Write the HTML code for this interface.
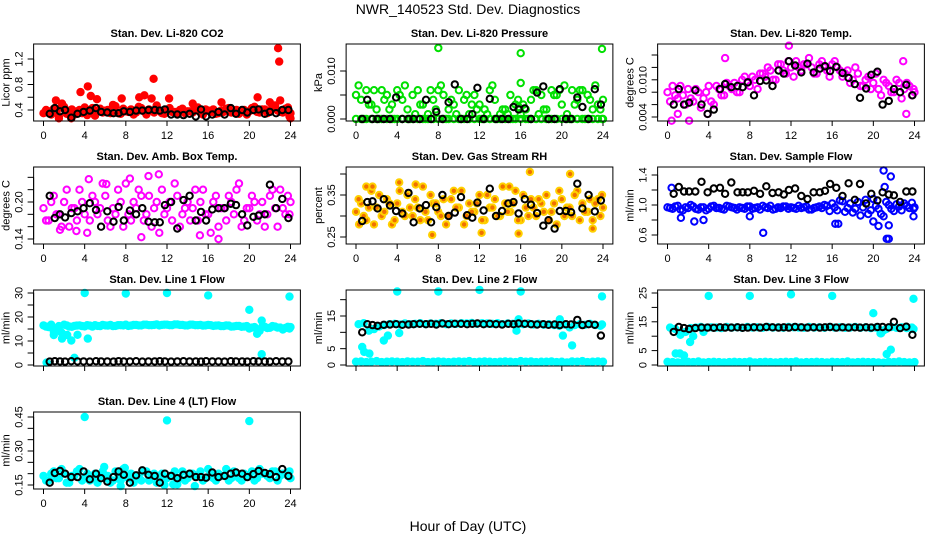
<!DOCTYPE html>
<html><head><meta charset="utf-8"><title>NWR_140523 Std. Dev. Diagnostics</title>
<style>
html,body{margin:0;padding:0;background:#fff;}
svg{display:block;font-family:"Liberation Sans",Arial,sans-serif;}
</style></head>
<body>
<svg id="chart" width="936" height="540" viewBox="0 0 936 540" xmlns="http://www.w3.org/2000/svg">
<rect x="0" y="0" width="936" height="540" fill="#fff"/>
<text x="468" y="14" text-anchor="middle" font-size="14" fill="#000">NWR_140523 Std. Dev. Diagnostics</text>
<text x="468" y="531" text-anchor="middle" font-size="14" fill="#000">Hour of Day (UTC)</text>
</svg>
<script>
// ---- shared categories ----
const halfHours = [0,0.5,1,1.5,2,2.5,3,3.5,4,4.5,5,5.5,6,6.5,7,7.5,8,8.5,9,9.5,10,10.5,11,11.5,12,12.5,13,13.5,14,14.5,15,15.5,16,16.5,17,17.5,18,18.5,19,19.5,20,20.5,21,21.5,22,22.5,23,23.5,24];
const qHours = [0.25,0.75,1.25,1.75,2.25,2.75,3.25,3.75,4.25,4.75,5.25,5.75,6.25,6.75,7.25,7.75,8.25,8.75,9.25,9.75,10.25,10.75,11.25,11.75,12.25,12.75,13.25,13.75,14.25,14.75,15.25,15.75,16.25,16.75,17.25,17.75,18.25,18.75,19.25,19.75,20.25,20.75,21.25,21.75,22.25,22.75,23.25,23.75,23.9];
const blackHours = [0.6,1.1,1.6,2.1,2.7,3.3,3.9,4.5,5.1,5.6,6.2,6.8,7.3,7.8,8.4,9.0,9.6,10.2,10.8,11.3,11.8,12.4,13.0,13.6,14.2,14.8,15.3,15.8,16.4,17.0,17.6,18.2,18.7,19.3,19.8,20.4,20.9,21.5,22.0,22.6,23.2,23.8];
const xTicks = [0,4,8,12,16,20,24];

// ---- CO2 ----
const co2A = [.35,.38,.42,.30,.45,.36,.33,.40,.44,.37,.31,.42,.39,.35,.46,.34,.38,.41,.36,.43,.33,.39,.47,.35,.40,.37,.34,.42,.38,.36,.44,.33,.39,.41,.35,.37,.43,.36,.34,.40,.38,.45,.36,.41,.39,.47,.37,.42,.35];
const co2B = [.40,.33,.36,.44,.34,.41,.38,.35,.32,.43,.39,.36,.40,.48,.35,.42,.37,.33,.45,.38,.41,.36,.39,.34,.43,.37,.40,.35,.38,.44,.36,.41,.37,.34,.39,.42,.36,.40,.38,.33,.43,.37,.41,.35,.46,.39,.36,.44,.30];
const co2OutH = [1.2,1.8,3.6,4.3,4.6,5.2,7.6,9.3,9.8,10.5,10.7,12.2,14.5,17.3,20.8,22.0,22.8,22.9,23.0,24,1.5,2.7];
const co2OutV = [.55,.50,.68,.77,.62,.57,.58,.60,.63,.58,.89,.58,.50,.52,.60,.52,1.37,1.16,.55,.27,.27,.27];
const co2K = [.34,.43,.38,.40,.28,.34,.37,.39,.43,.37,.36,.35,.35,.38,.37,.39,.39,.40,.40,.39,.41,.33,.33,.32,.34,.30,.41,.30,.33,.37,.33,.43,.34,.40,.36,.40,.41,.34,.37,.35,.40,.40];

// ---- Pressure ----
const prA = [.005,.004,.006,.003,.002,.006,.005,.003,.006,.004,.002,.005,.006,.003,.001,.004,.006,.005,.002,.003,.006,.004,.001,.005,.003,.002,.006,.004,.001,.002,.005,.003,.001,.002,.004,.006,.005,.002,.006,.005,.003,.001,.006,.004,.006,.005,.002,.003,.004];
const prB = [.007,0,.003,.006,0,.004,.002,0,.005,.007,0,.001,.003,0,.006,.002,.007,0,.004,.001,0,.005,.003,.002,0,.001,.007,0,.002,.001,0,.004,.003,0,.006,.001,.002,0,.005,.006,.007,0,.003,.006,0,.004,.007,.002,0];
const prC = [0,0,0,0,0,0,0,0,0,0,0,0,0,0,0,0,0,0,0,0,0,0,0,0,0,0,0,0,0,0,0,0,0,0,0,0,0,0,0,0,0,0,0,0,0,0,0,0,0];
const prOutH = [8,16,23.9,16.0,15.8,15.9];
const prOutV = [.0148,.0137,.0146,.0075,.0025,.002];
const prK = [0,.004,0,0,0,0,.0045,0,0,0,0,.004,0,.0015,0,.0035,.0072,0,0,.001,.0065,0,.0042,0,0,0,.0025,.002,.0022,0,.0055,.0068,0,0,.0062,0,0,.0045,.0025,0,.0062,.003];

// ---- Li-820 Temp ----
const tpA = [.008,.009,.007,.0075,.0085,.0065,.008,.007,.009,.006,.0085,.0075,.009,.0095,.008,.0105,.009,.0100,.0110,.0105,.0115,.0100,.0125,.0110,.0120,.0130,.0115,.0125,.0120,.0110,.0130,.0115,.0125,.0120,.0105,.0115,.0100,.0110,.0090,.0105,.0095,.0085,.0100,.0090,.0080,.0095,.0085,.0090,.0080];
const tpB = [.0065,.0075,.009,.006,.0070,.0085,.0055,.0080,.0065,.0090,.0075,.0095,.0085,.0080,.0100,.0095,.0105,.0085,.0110,.0120,.0100,.0125,.0115,.0130,.0105,.0120,.0125,.0135,.0110,.0125,.0120,.0105,.0130,.0115,.0110,.0095,.0120,.0090,.0100,.0085,.0110,.0075,.0095,.0080,.0100,.0070,.0095,.0075,.0085];
const tpOutH = [0.4,2.1,1.0,23.2,3.9,5.6,22.9,11.8];
const tpOutV = [.0034,.0034,.0045,.0045,.0045,.0135,.013,.0155];
const tpK = [.006,.0085,.006,.0063,.0083,.006,.0045,.0052,.0085,.0093,.0088,.0090,.0088,.0096,.0075,.0098,.0099,.0090,.0115,.0110,.0130,.0123,.0112,.0126,.0112,.0118,.0122,.0114,.0121,.0111,.0103,.0093,.0071,.0086,.0108,.0113,.0060,.0066,.0085,.0080,.0092,.0075];

// ---- Amb Box Temp ----
const abA = [.19,.17,.21,.18,.20,.16,.19,.22,.18,.17,.20,.19,.21,.16,.18,.20,.23,.17,.19,.21,.18,.16,.20,.22,.19,.17,.21,.18,.20,.19,.17,.22,.18,.20,.16,.19,.21,.18,.23,.17,.19,.20,.18,.16,.21,.19,.22,.18,.20];
const abB = [.17,.20,.18,.16,.22,.19,.17,.20,.15,.21,.18,.23,.17,.19,.22,.16,.18,.20,.22,.17,.21,.19,.15,.18,.20,.23,.16,.19,.17,.22,.20,.18,.15,.21,.19,.17,.20,.22,.16,.19,.21,.17,.20,.18,.22,.16,.19,.21,.18];
const abOutH = [4.4,8.4,10.2,11.2,6.1,1.6,3.2,17.0,15.2,9.5];
const abOutV = [.237,.238,.242,.245,.229,.155,.153,.140,.146,.143];
const abK = [.21,.174,.180,.175,.182,.185,.19,.198,.187,.160,.185,.168,.192,.170,.186,.180,.190,.168,.167,.167,.195,.200,.157,.203,.210,.170,.184,.170,.188,.190,.190,.197,.195,.180,.162,.176,.178,.180,.228,.190,.205,.174];

// ---- Gas Stream RH ----
const rhA = [.31,.33,.29,.36,.32,.30,.34,.28,.33,.31,.35,.30,.32,.37,.29,.33,.31,.34,.30,.36,.32,.28,.33,.31,.35,.29,.32,.34,.30,.33,.31,.36,.29,.32,.34,.30,.33,.35,.31,.28,.34,.32,.30,.36,.33,.31,.29,.34,.32];
const rhB = [.34,.30,.32,.28,.35,.31,.33,.29,.36,.30,.32,.34,.29,.31,.35,.33,.30,.28,.34,.32,.36,.30,.31,.33,.29,.35,.32,.30,.37,.31,.33,.29,.35,.30,.32,.34,.31,.29,.33,.36,.30,.32,.35,.29,.31,.34,.33,.30,.35];
const rhOutH = [1.0,4.2,7.4,12.2,16.9,14.9,15.8,20.8,23.0,0.3,1.6,5.8];
const rhOutV = [.37,.38,.255,.26,.405,.37,.258,.40,.27,.28,.37,.375];
const rhK = [.288,.333,.335,.318,.340,.325,.312,.306,.355,.285,.318,.326,.285,.321,.350,.300,.308,.345,.302,.296,.332,.313,.365,.300,.312,.330,.333,.306,.340,.327,.307,.277,.290,.270,.312,.312,.309,.377,.318,.350,.311,.337];

// ---- Sample Flow ----
const sfA = [.97,.95,.99,.93,.96,.98,.94,.97,.95,.99,.96,.94,.98,.96,.97,.95,.98,.96,.94,.97,.99,.95,.96,.98,.97,.95,.96,.98,.94,.97,.96,.99,1.02,.93,1.05,.96,.90,1.04,.97,.88,1.08,.95,.85,1.00,.92,.98,1.02,.96,.97];
const sfB = [.96,.98,.94,.97,1.00,.95,.97,.93,.98,.96,.95,.99,.97,.94,.96,.98,.95,.97,.99,.96,.94,.97,.98,.95,.96,.99,.97,.94,.96,.98,1.00,.92,.97,1.06,.91,1.02,.95,.86,1.07,.93,.99,.88,1.04,.95,1.01,.93,.99,1.03,.95];
const sfOutH = [0.4,1.3,2.6,3.5,9.3,8.0,16.3,16.6,20.0,20.5,21.0,21.7,21.3,21.5,21.5,21.1,23.9];
const sfOutV = [1.23,.83,.78,.80,.63,.85,.75,.75,.78,.72,1.46,1.38,.55,.55,.73,1.24,.85];
const sfK = [1.15,1.24,1.18,1.18,1.18,1.31,1.17,1.22,1.23,1.15,1.30,1.17,1.17,1.17,1.19,1.15,1.25,1.16,1.17,1.14,1.20,1.22,1.12,1.08,1.17,1.17,1.19,1.28,1.23,1.12,1.29,1.07,1.28,1.02,1.15,1.06,1.17,1.14,1.13,1.04,1.18,1.18];

// ---- Line 1 Flow ----
const l1A = [16.5,15.8,14.0,16.2,16.8,16.0,16.3,16.5,16.1,16.4,16.6,16.2,16.5,16.7,16.3,16.6,16.8,16.4,16.7,16.5,16.8,16.6,16.9,16.7,16.8,16.6,16.9,16.7,16.5,16.8,16.6,16.4,16.7,16.3,16.5,16.2,16.4,16.1,16.3,16.0,15.2,15.8,14.2,15.9,15.5,16.0,15.6,15.4,15.8];
const l1B = [16.0,16.8,15.2,13.5,16.5,15.9,16.4,16.2,16.6,16.0,16.3,16.7,16.4,16.2,16.6,16.5,16.3,16.7,16.5,16.8,16.6,16.7,16.5,16.8,16.6,16.9,16.7,16.5,16.8,16.6,16.7,16.5,16.6,16.4,16.2,16.5,16.0,16.3,15.9,16.2,15.6,13.0,15.9,15.4,16.2,15.6,14.8,15.9,15.2];
const l1OutH = [4,8,12,16,20,23.9,0.3,1.0,2.7,3.3,4.3,2.3,21.2,21.2,1.8,3.0];
const l1OutV = [30,29.8,30,29,23,28.5,1,12.5,10.2,12.6,11,12.5,4.5,18.5,11,3];
const l1K = [1.4,1.6,1.5,1.4,1.6,1.5,1.5,1.4,1.6,1.5,1.5,1.4,1.6,1.5,1.5,1.6,1.4,1.5,1.5,1.6,1.5,1.4,1.5,1.6,1.5,1.5,1.4,1.6,1.5,1.5,1.4,1.6,1.5,1.5,1.4,1.6,1.5,1.5,1.4,1.6,1.5,1.5];

// ---- Line 2 Flow ----
const l2A = [1.0,1.1,0.9,1.0,1.2,0.9,1.0,1.1,1.0,0.9,1.1,1.0,1.0,1.2,0.9,1.0,1.1,1.0,0.9,1.0,1.1,1.0,1.2,0.9,1.0,1.1,1.0,0.9,1.0,1.1,1.0,0.9,1.2,1.0,1.1,0.9,1.0,1.0,1.1,0.9,1.0,0.8,1.1,1.0,1.2,0.9,1.0,1.1,1.0];
const l2B = [12.5,12.8,10.5,11.0,11.8,12.2,12.5,12.6,12.4,12.7,12.5,12.6,12.8,12.5,12.7,12.6,12.8,12.5,12.7,12.6,12.8,12.7,12.9,12.6,12.8,12.7,12.6,12.8,12.5,12.7,12.6,12.8,12.5,12.7,12.4,12.6,12.3,12.5,12.2,12.0,12.4,11.5,12.2,12.5,12.3,12.6,12.2,12.0,12.4];
const l2OutH = [4,8,12,16,23.9,0.6,0.8,1.3,2.7,3.1,4.2,15.6,19.8,20.1,21.0,15.8,1.4];
const l2OutV = [22.5,22.5,23,22.5,21,5.5,4,3.5,7.5,9,9.8,10.5,14,9,6,14,11.0];
const l2K = [10,12.5,12.2,12.0,12.3,12.4,12.5,12.3,12.4,12.5,12.6,12.5,12.6,12.4,12.7,12.5,12.6,12.6,12.5,12.6,12.7,12.5,12.6,12.5,12.4,12.6,12.5,12.7,12.6,12.5,12.4,12.5,12.3,12.4,12.2,12.5,12.4,13.8,12.2,12.5,12.3,9];

// ---- Line 3 Flow ----
const l3A = [1.1,1.0,0.9,1.0,1.1,1.0,1.2,0.9,1.0,1.1,1.0,0.9,1.0,1.1,1.0,1.0,1.2,0.9,1.0,1.1,1.0,0.9,1.0,1.1,1.0,1.2,0.9,1.0,1.0,1.1,1.0,0.9,1.1,1.0,1.0,1.2,0.9,1.0,1.1,1.0,1.0,0.9,0.8,1.1,1.0,1.2,1.0,0.9,1.0];
const l3B = [13.0,12.5,10.5,11.5,12.8,13.0,13.2,12.9,13.1,13.0,12.8,13.2,13.0,13.1,12.9,13.2,13.0,13.1,12.9,13.2,13.0,13.1,12.9,13.2,13.1,13.0,12.9,13.2,13.0,13.1,12.9,13.2,13.0,13.1,12.9,13.0,13.2,12.9,13.1,12.8,13.0,11.0,12.5,13.2,12.9,13.1,12.8,13.0,12.5];
const l3OutH = [4,8,12,16,23.9,0.8,1.2,1.6,2.2,2.5,20.0,20.7,21.3,21.7,21.0,3.5];
const l3OutV = [24,24,24.5,24,23,4,4,3.3,8,10,18,11,3.8,5.3,12,11.5];
const l3K = [11.5,13.2,12.8,12.5,12.8,13.0,13.0,12.9,13.1,13.0,13.0,13.1,12.9,13.0,13.1,13.0,13.2,13.1,13.0,13.1,13.0,13.2,13.1,13.0,13.1,13.0,13.1,13.2,13.0,13.1,13.0,13.1,13.0,13.1,13.0,13.2,13.2,13.1,15.0,12.8,13.3,10.5];

// ---- Line 4 (LT) Flow ----
const l4A = [.19,.17,.21,.18,.20,.16,.19,.22,.18,.17,.20,.19,.18,.16,.21,.17,.19,.20,.18,.17,.21,.19,.16,.20,.18,.19,.17,.21,.18,.20,.19,.17,.22,.18,.20,.19,.17,.21,.18,.20,.19,.17,.22,.20,.18,.21,.19,.20,.18];
const l4B = [.17,.20,.18,.22,.16,.19,.21,.17,.20,.18,.16,.21,.19,.17,.20,.22,.18,.16,.19,.21,.17,.20,.18,.15,.19,.21,.18,.17,.20,.19,.21,.18,.20,.17,.19,.22,.18,.20,.17,.19,.21,.18,.20,.19,.21,.17,.20,.19,.21];
const l4OutH = [4,12,20,7.5,14.7,12.6,13.0,5.9,7.9];
const l4OutV = [.45,.435,.432,.145,.145,.153,.153,.23,.225];
const l4K = [.16,.203,.212,.20,.185,.185,.21,.175,.20,.18,.165,.185,.210,.195,.16,.193,.215,.195,.19,.16,.20,.190,.180,.195,.200,.185,.185,.182,.205,.185,.190,.20,.205,.20,.185,.198,.212,.203,.198,.185,.22,.19];

// ---- tick arrays ----
const co2Ticks = [0.4,0.6,0.8,1.0,1.2], co2Labels = ["0.4","","0.8","","1.2"];
const prTicks = [0,0.005,0.01], prLabels = ["0.000","","0.010"];
const tpTicks = [0.004,0.006,0.008,0.010,0.012,0.014], tpLabels = ["0.004","","","0.010","",""];
const abTicks = [0.14,0.16,0.18,0.20,0.22,0.24], abLabels = ["0.14","","","0.20","",""];
const rhTicks = [0.25,0.30,0.35,0.40], rhLabels = ["0.25","","0.35",""];
const sfTicks = [0.6,0.8,1.0,1.2,1.4], sfLabels = ["0.6","","1.0","","1.4"];
const l1Ticks = [0,5,10,15,20,25,30], l1Labels = ["0","","10","","20","","30"];
const l2Ticks = [0,5,10,15,20], l2Labels = ["0","5","","15",""];
const l3Ticks = [0,5,10,15,20,25], l3Labels = ["0","5","","15","","25"];
const l4Ticks = [0.15,0.20,0.25,0.30,0.35,0.40,0.45], l4Labels = ["0.15","","","0.30","","","0.45"];

const NS = "http://www.w3.org/2000/svg";
const svg = document.getElementById('chart');
function mk(tag, attrs, parent){ const e=document.createElementNS(NS,tag); for(const k in attrs) e.setAttribute(k,attrs[k]); (parent||svg).appendChild(e); return e; }

const colX0 = [43.5, 356, 667.5];
const HW = 247/24;
const rowBox = [[44,121],[167,244],[290,366],[412,489]];

function drawPanel(p){
  const x0 = colX0[p.col];
  const top = rowBox[p.row][0], bot = rowBox[p.row][1];
  const k = (p.cal[3]-p.cal[1])/(p.cal[2]-p.cal[0]);
  const xs = h => x0 + h*HW;
  const ys = v => p.cal[1] + (v - p.cal[0])*k;
  const g = mk('g',{});
  
  
  const left = xs(-0.96), right = xs(24.96);
  const t = mk('text',{x:(left+right)/2,y:top-7,'text-anchor':'middle','font-size':11,'font-weight':'bold'},g);
  t.textContent = p.title;
  
  
  const pts = mk('g',{},g);
  
  
  function dot(h,v,stroke,fill){
    const y = ys(v);
    if (y < top-2 || y > bot+2) return;
    const c = mk('circle',{cx:xs(h).toFixed(1),cy:y.toFixed(1),r:3.2,fill:fill,stroke:stroke,'stroke-width':2},pts);
    
    
  }
  p.main.forEach((arr,j)=>{ const hrs = j%2===0 ? halfHours : qHours; arr.forEach((v,i)=>dot(hrs[i],v,p.color,p.fill)); });
  p.outH.forEach((h,i)=>dot(h,p.outV[i],p.color,p.fill));
  p.black.forEach((v,i)=>dot(blackHours[i],v,'#000','none'));
  const b = mk('rect',{x:left,y:top,width:right-left,height:bot-top,fill:'none',stroke:'#000','stroke-width':1},g);
  
  
  const xa = mk('g',{},g);
  
  
  mk('line',{x1:xs(0),x2:xs(24),y1:bot,y2:bot,stroke:'#000'},xa);
  xTicks.forEach(h=>{
    mk('line',{x1:xs(h),x2:xs(h),y1:bot,y2:bot+5,stroke:'#000'},xa);
    if (p.row!==2){ const lt = mk('text',{x:xs(h),y:bot+18,'text-anchor':'middle','font-size':11},xa); lt.textContent = h; }
  });
  const ya = mk('g',{},g);
  
  
  mk('line',{x1:left,x2:left,y1:ys(p.ticks[0]),y2:ys(p.ticks[p.ticks.length-1]),stroke:'#000'},ya);
  p.ticks.forEach((v,i)=>{
    const y = ys(v);
    mk('line',{x1:left-6,x2:left,y1:y,y2:y,stroke:'#000'},ya);
    if (p.labels[i]){ const lt = mk('text',{x:left-11,y:y,'text-anchor':'middle','font-size':11,transform:`rotate(-90 ${left-11} ${y})`},ya); lt.textContent = p.labels[i]; }
  });
  const yt = mk('text',{x:left-24,y:(top+bot)/2,'text-anchor':'middle','font-size':11,transform:`rotate(-90 ${left-24} ${(top+bot)/2})`},g);
  yt.textContent = p.ytitle;
  
  
}

const panels = [
 {name:'li820-co2',title:'Stan. Dev. Li-820 CO2',row:0,col:0,cal:[0.4,110,1.2,59],ticks:co2Ticks,labels:co2Labels,ytitle:'Licor ppm',color:'#ff0000',fill:'#ff0000',main:[co2A,co2B],outH:co2OutH,outV:co2OutV,black:co2K},
 {name:'li820-pressure',title:'Stan. Dev. Li-820 Pressure',row:0,col:1,cal:[0,119,0.01,71],ticks:prTicks,labels:prLabels,ytitle:'kPa',color:'#00e000',fill:'none',main:[prA,prB,prC],outH:prOutH,outV:prOutV,black:prK},
 {name:'li820-temp',title:'Stan. Dev. Li-820 Temp.',row:0,col:2,cal:[0.004,117,0.010,79.8],ticks:tpTicks,labels:tpLabels,ytitle:'degrees C',color:'#ff00ff',fill:'none',main:[tpA,tpB],outH:tpOutH,outV:tpOutV,black:tpK},
 {name:'amb-box-temp',title:'Stan. Dev. Amb. Box Temp.',row:1,col:0,cal:[0.14,239,0.20,202],ticks:abTicks,labels:abLabels,ytitle:'degrees C',color:'#ff00ff',fill:'none',main:[abA,abB],outH:abOutH,outV:abOutV,black:abK},
 {name:'gas-stream-rh',title:'Stan. Dev. Gas Stream RH',row:1,col:1,cal:[0.25,237,0.35,195],ticks:rhTicks,labels:rhLabels,ytitle:'percent',color:'#ffd000',fill:'#f07000',main:[rhA,rhB],outH:rhOutH,outV:rhOutV,black:rhK},
 {name:'sample-flow',title:'Stan. Dev. Sample Flow',row:1,col:2,cal:[0.6,235,1.0,205],ticks:sfTicks,labels:sfLabels,ytitle:'ml/min',color:'#0000ff',fill:'none',main:[sfA,sfB],outH:sfOutH,outV:sfOutV,black:sfK},
 {name:'line1-flow',title:'Stan. Dev. Line 1 Flow',row:2,col:0,cal:[0,365,30,293],ticks:l1Ticks,labels:l1Labels,ytitle:'ml/min',color:'#00ffff',fill:'#00ffff',main:[l1A,l1B],outH:l1OutH,outV:l1OutV,black:l1K},
 {name:'line2-flow',title:'Stan. Dev. Line 2 Flow',row:2,col:1,cal:[0,365,15,316],ticks:l2Ticks,labels:l2Labels,ytitle:'ml/min',color:'#00ffff',fill:'#00ffff',main:[l2A,l2B],outH:l2OutH,outV:l2OutV,black:l2K},
 {name:'line3-flow',title:'Stan. Dev. Line 3 Flow',row:2,col:2,cal:[0,365,25,293],ticks:l3Ticks,labels:l3Labels,ytitle:'ml/min',color:'#00ffff',fill:'#00ffff',main:[l3A,l3B],outH:l3OutH,outV:l3OutV,black:l3K},
 {name:'line4-flow',title:'Stan. Dev. Line 4 (LT) Flow',row:3,col:0,cal:[0.15,485,0.45,417],ticks:l4Ticks,labels:l4Labels,ytitle:'ml/min',color:'#00ffff',fill:'#00ffff',main:[l4A,l4B],outH:l4OutH,outV:l4OutV,black:l4K}
];
panels.forEach(drawPanel);
</script>
</body></html>
